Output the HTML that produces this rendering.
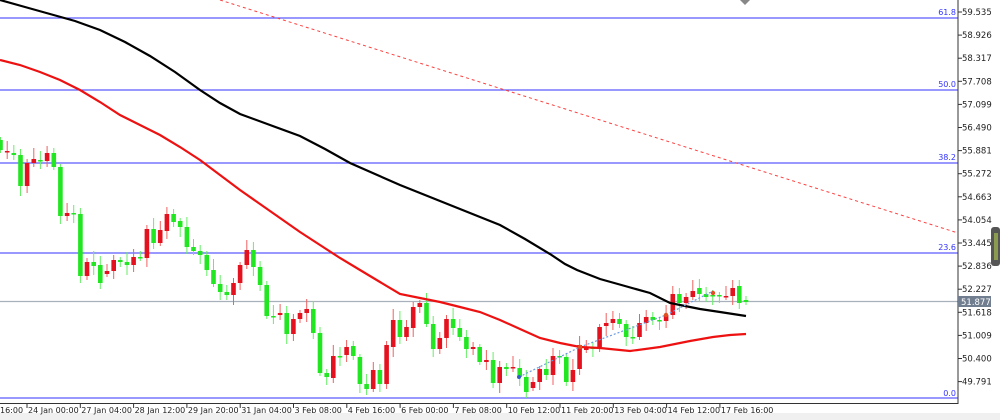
<!DOCTYPE html>
<html><head><meta charset="utf-8"><style>
html,body{margin:0;padding:0;background:#fff;width:1000px;height:420px;overflow:hidden}
svg{display:block;font-family:Tahoma,"DejaVu Sans",sans-serif}
</style></head><body>
<svg id="s" width="1000" height="420" viewBox="0 0 1000 420" xmlns="http://www.w3.org/2000/svg">
<rect x="0" y="0" width="1000" height="420" fill="#fff"/>
<rect x="0" y="413" width="1000" height="7" fill="#f0f0f0"/>
<g stroke="#5a5aff" stroke-width="1.3">
<line x1="0" y1="18" x2="958" y2="18"/><line x1="0" y1="90" x2="958" y2="90"/>
<line x1="0" y1="163" x2="958" y2="163"/><line x1="0" y1="253" x2="958" y2="253"/>
<line x1="0" y1="398" x2="958" y2="398"/></g>
<line x1="0" y1="301.5" x2="958" y2="301.5" stroke="#a8b0bc" stroke-width="1.3"/>
<g fill="#3333ff" font-size="8" text-anchor="end">
<text x="956" y="15">61.8</text><text x="956" y="87">50.0</text><text x="956" y="160">38.2</text>
<text x="956" y="250">23.6</text><text x="956" y="396">0.0</text></g>
<line x1="220" y1="0" x2="958" y2="233" stroke="#ff4040" stroke-width="1" stroke-dasharray="3,3"/>
<polygon points="740,0 750,0 745,5" fill="#888"/>
<g id="c"></g>
<polyline fill="none" stroke="#000" stroke-width="2.2" points="0,0 25,7 50,14 75,21 100,30 125,42 150,56 175,72 200,90 220,103 240,114 270,125 300,136 325,149 350,163 375,174 400,185 425,195 450,205 475,215 500,225 525,239 550,254 565,264 577,270 600,279 625,286 650,293 670,303 685,306 700,309 720,312 746,316"/>
<polyline fill="none" stroke="#ee1111" stroke-width="2.2" points="0,60 20,65 40,72 60,80 80,90 100,102 120,115 140,125 160,135 180,147 200,160 220,175 240,190 260,204 280,218 300,232 320,245 340,258 360,270 380,282 400,294 420,298 440,302 460,307 480,312 500,320 520,329 540,338 560,343 580,347 600,348 630,351 660,347 690,341 713,337 730,335 746,334"/>
<polyline fill="none" stroke="#6b9be0" stroke-width="1.2" stroke-dasharray="2,2" points="519,377 580,347 666,315 713,291"/>
<g fill="#e05020"><circle cx="580" cy="347" r="2.2"/><circle cx="666" cy="315" r="2.2"/><circle cx="713" cy="293" r="2.2"/></g>
<circle cx="519" cy="377" r="2" fill="#3060c0"/>
<line x1="958" y1="0" x2="958" y2="404" stroke="#333" stroke-width="1"/>
<line x1="0" y1="403.5" x2="958" y2="403.5" stroke="#333" stroke-width="1"/>
<g id="ax" font-size="8.5" fill="#222"></g>
<rect x="958" y="296" width="33" height="11" fill="#707e90"/>
<text x="961" y="305" font-size="8.5" fill="#fff">51.877</text>
<rect x="991" y="227" width="9" height="39" rx="3" fill="#555"/>
<rect x="994" y="233" width="4" height="27" fill="#8a9a50"/>
</svg>
<script>
var C=[[140,150,1],[151,151,0],[153,155,1],[155,186,1],[163,186,0],[159,163,0],[160,160,1],[153,161,0],[153,167,1],[167,216,1],[213,216,0],[213,213,1],[214,276,1],[262,276,0],[262,266,1],[265,283,1],[271,274,0],[260,271,0],[260,262,1],[262,265,1],[257,265,0],[257,257,1],[229,258,0],[229,243,1],[230,243,0],[214,231,0],[214,222,1],[221,227,1],[227,247,1],[247,251,1],[251,255,1],[255,270,1],[270,284,1],[284,292,1],[292,295,1],[283,295,0],[265,283,0],[250,265,0],[250,267,1],[267,285,1],[285,316,1],[316,316,1],[313,315,0],[313,334,1],[319,334,0],[313,319,0],[309,313,0],[309,333,1],[333,373,1],[373,377,1],[356,378,0],[356,356,1],[347,355,0],[346,356,1],[357,384,1],[384,389,1],[370,389,0],[370,384,1],[345,384,0],[320,347,0],[320,337,1],[327,337,0],[307,328,0],[303,307,0],[303,324,1],[324,349,1],[338,349,0],[319,338,0],[319,328,1],[328,337,1],[337,349,1],[347,349,0],[347,362,1],[360,362,0],[360,383,1],[367,383,0],[367,369,1],[367,368,0],[368,377,1],[377,392,1],[382,388,0],[369,382,0],[369,375,1],[356,375,0],[356,357,1],[357,382,1],[370,382,0],[345,369,0],[347,350,0],[347,349,1],[327,347,0],[323,326,0],[319,323,0],[319,324,1],[324,337,1],[337,338,1],[323,337,0],[317,323,0],[317,320,1],[320,320,1],[315,321,0],[294,315,0],[294,303,1],[297,303,0],[291,297,0],[288,294,1],[294,297,1],[295,295,1],[295,296,1],[296,296,0],[288,296,0],[286,303,1],[300,302,1]];
var g=document.getElementById('c'),h='',sp=(746-0.5)/(C.length-1);
for(var i=0;i<C.length;i++){var x=0.5+i*sp,t=C[i][0],b=C[i][1],gr=C[i][2];
var col=gr?'#22e622':'#e4121e',wc=gr?'#66ee66':'#f06060';
var wt=t-3-((i*7)%9),wb=b+3+((i*5)%8);
h+='<line x1="'+x.toFixed(1)+'" y1="'+wt+'" x2="'+x.toFixed(1)+'" y2="'+wb+'" stroke="'+wc+'" stroke-width="1"/>';
h+='<rect x="'+(x-2.3).toFixed(1)+'" y="'+t+'" width="4.6" height="'+Math.max(1.5,b-t)+'" fill="'+col+'"/>';}
g.innerHTML=h;
var a=document.getElementById('ax'),s='';
var P=['59.535','58.926','58.317','57.708','57.099','56.490','55.881','55.272','54.663','54.054','53.445','52.836','52.227','51.618','51.009','50.400','49.791'];
for(var k=0;k<P.length;k++){var yy=12+k*23.1;s+='<line x1="958" y1="'+yy+'" x2="962" y2="'+yy+'" stroke="#333"/><text x="962" y="'+(yy+3)+'">'+P[k]+'</text>';}
var L=['24 Jan 00:00','27 Jan 04:00','28 Jan 12:00','29 Jan 20:00','31 Jan 04:00','3 Feb 08:00','4 Feb 16:00','6 Feb 00:00','7 Feb 08:00','10 Feb 12:00','11 Feb 20:00','13 Feb 04:00','14 Feb 12:00','17 Feb 16:00'];
s+='<text x="0" y="413" font-size="8">16:00</text>';
for(var j=0;j<L.length;j++){var X=27+j*53.3;s+='<line x1="'+X+'" y1="404" x2="'+X+'" y2="408" stroke="#333"/><text x="'+(X+1)+'" y="413" font-size="8">'+L[j]+'</text>';}
a.innerHTML=s;
</script>
</body></html>
